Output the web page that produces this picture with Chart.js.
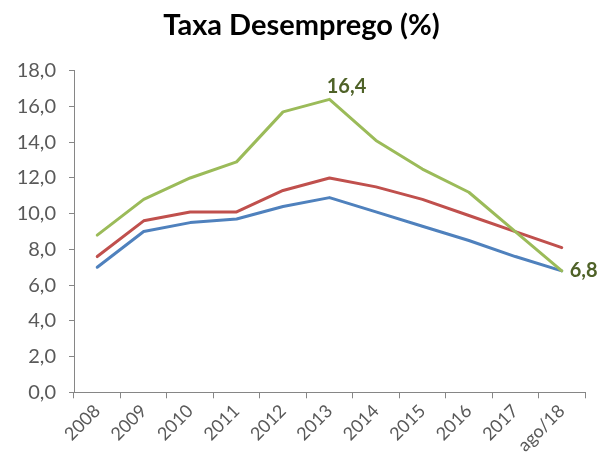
<!DOCTYPE html>
<html>
<head>
<meta charset="utf-8">
<script src="https://cdn.jsdelivr.net/npm/chart.js@4.4.1/dist/chart.umd.min.js"></script>
<style>
  html, body { margin: 0; padding: 0; background: #ffffff; }
  #wrap { width: 602px; height: 461px; }
</style>
</head>
<body>
<div id="wrap"><canvas id="chart" width="602" height="461"></canvas></div>
<script>
// Categories (years) and the three unemployment-rate series, in %
const categories = ['2008', '2009', '2010', '2011', '2012', '2013', '2014', '2015', '2016', '2017', 'ago/18'];
const greenSeries = [8.8, 10.8, 12.0, 12.9, 15.7, 16.4, 14.1, 12.5, 11.2, 9.0, 6.8];
const redSeries   = [7.6, 9.6, 10.1, 10.1, 11.3, 12.0, 11.5, 10.8, 9.9, 9.0, 8.1];
const blueSeries  = [7.0, 9.0, 9.5, 9.7, 10.4, 10.9, 10.1, 9.3, 8.5, 7.6, 6.8];

// Y axis range and step
const yMin = 0;
const yMax = 18;
const yStep = 2;

// Points of the green series whose value is written next to them
const labelledIndexes = [5, 10];

const fmt = v => Number(v).toFixed(1).replace('.', ',');
const AXIS = '#868686';
const TEXT = '#595959';
const FONT = 'Lato, "Open Sans", sans-serif';

// Draws the value labels for the selected green points
const valueLabels = {
  id: 'valueLabels',
  afterDatasetsDraw(chart) {
    const meta = chart.getDatasetMeta(0);
    const ctx = chart.ctx;
    ctx.save();
    ctx.font = 'bold 20px ' + FONT;
    ctx.fillStyle = '#4F6228';
    ctx.textBaseline = 'middle';
    labelledIndexes.forEach(i => {
      const pt = meta.data[i];
      const text = fmt(greenSeries[i]);
      if (i === categories.length - 1) {
        ctx.textAlign = 'left';
        ctx.fillText(text, pt.x + 8, pt.y);
      } else {
        ctx.textAlign = 'center';
        ctx.fillText(text, pt.x + 17, pt.y - 13);
      }
    });
    ctx.restore();
  }
};

const lineStyle = {
  borderWidth: 3,
  pointRadius: 0,
  pointHoverRadius: 0,
  tension: 0,
  fill: false,
  borderJoinStyle: 'round',
  borderCapStyle: 'round'
};

new Chart(document.getElementById('chart'), {
  type: 'line',
  data: {
    labels: categories,
    datasets: [
      Object.assign({ data: greenSeries, borderColor: '#9BBB59' }, lineStyle),
      Object.assign({ data: redSeries, borderColor: '#C0504D' }, lineStyle),
      Object.assign({ data: blueSeries, borderColor: '#4F81BD' }, lineStyle)
    ]
  },
  plugins: [valueLabels],
  options: {
    responsive: false,
    animation: false,
    devicePixelRatio: 1,
    layout: { padding: { left: 18, right: 17, top: 0, bottom: 0 } },
    plugins: {
      legend: { display: false },
      tooltip: { enabled: false },
      title: {
        display: true,
        text: 'Taxa Desemprego (%)',
        color: '#000000',
        font: { family: FONT, size: 29, weight: 'bold' },
        padding: { top: 8, bottom: 28 }
      }
    },
    scales: {
      x: {
        type: 'category',
        offset: true,
        grid: { display: true, drawOnChartArea: false, offset: true, tickLength: 6, color: AXIS },
        border: { display: true, color: AXIS, width: 1 },
        ticks: {
          minRotation: 45, maxRotation: 45, autoSkip: false,
          color: TEXT, padding: 2,
          font: { family: FONT, size: 18 }
        },
        afterFit: s => { s.height = 68.7; }
      },
      y: {
        min: yMin,
        max: yMax,
        grid: { display: true, drawOnChartArea: false, tickLength: 5, color: AXIS },
        border: { display: true, color: AXIS, width: 1 },
        ticks: {
          stepSize: yStep,
          padding: 13,
          color: TEXT,
          font: { family: FONT, size: 20 },
          callback: v => fmt(v)
        },
        afterFit: s => { s.width = 56; }
      }
    }
  }
});
</script>
</body>
</html>
